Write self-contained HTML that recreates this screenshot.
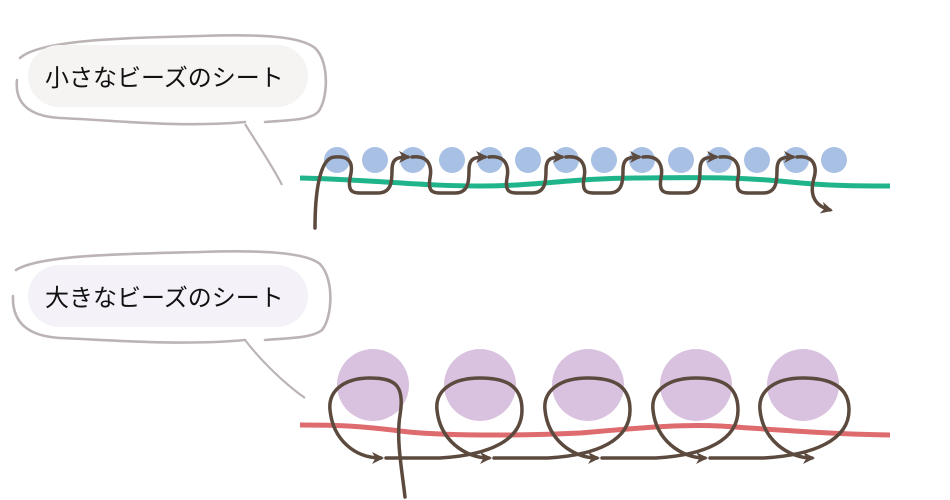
<!DOCTYPE html>
<html><head><meta charset="utf-8"><style>
html,body{margin:0;padding:0;background:#fff;}
svg{display:block;}
</style></head><body>
<svg width="950" height="500" viewBox="0 0 950 500" xmlns="http://www.w3.org/2000/svg">
<defs>
<marker id="ar" markerWidth="12" markerHeight="12" refX="9" refY="6" orient="auto" markerUnits="userSpaceOnUse">
<path d="M0,0 L12,6 L0,12 L3.5,6 Z" fill="#5c4a3e"/>
</marker>
</defs>
<!-- bubble 1 -->
<path d="M20,58 C40,40 120,38 200,36 C260,34 300,36 315,48 C330,62 328,100 318,112 C310,120 290,120 265,122 M245,122 C180,128 110,120 60,118 C25,116 15,100 17,80" fill="none" stroke="#bcb4b4" stroke-width="2.6" stroke-linecap="round"/>
<path d="M245,124 C258,145 272,165 282,185" fill="none" stroke="#bcb4b4" stroke-width="2.2"/>
<rect x="28" y="45" width="280" height="62" rx="31" fill="#f6f4f3"/>
<text x="45" y="86" font-family="Liberation Sans, Noto Sans CJK JP, sans-serif" font-size="24" fill="#111">小さなビーズのシート</text>
<!-- bubble 2 -->
<path d="M16,270 C40,255 120,254 200,252 C260,250 305,252 320,264 C335,280 332,318 322,330 C312,338 290,338 265,340 M245,340 C180,346 110,340 60,338 C25,336 12,320 13,296" fill="none" stroke="#bcb4b4" stroke-width="2.6" stroke-linecap="round"/>
<path d="M245,340 C262,362 285,384 305,398" fill="none" stroke="#bcb4b4" stroke-width="2.2"/>
<rect x="28" y="265" width="280" height="62" rx="31" fill="#f4f1f8"/>
<text x="45" y="306" font-family="Liberation Sans, Noto Sans CJK JP, sans-serif" font-size="24" fill="#111">大きなビーズのシート</text>

<!-- small beads -->
<g fill="#a8c0e4">
<circle cx="337" cy="160" r="13"/><circle cx="375" cy="160" r="13"/><circle cx="413" cy="160" r="13"/><circle cx="452" cy="160" r="13"/><circle cx="490" cy="160" r="13"/><circle cx="528" cy="160" r="13"/><circle cx="566" cy="160" r="13"/><circle cx="604" cy="160" r="13"/><circle cx="642" cy="160" r="13"/><circle cx="681" cy="160" r="13"/><circle cx="719" cy="160" r="13"/><circle cx="757" cy="160" r="13"/><circle cx="796" cy="160" r="13"/><circle cx="834" cy="160" r="13"/>
</g>
<path d="M300,178 C380,180 420,186 480,186 C540,186 570,178 640,178 C720,177 750,178 790,182 C830,186 860,186 890,186" fill="none" stroke="#1fb48a" stroke-width="5"/>
<g fill="none" stroke="#5c4a3e" stroke-width="3.5" stroke-linecap="round">
<path d="M315,228 C315,200 318,157 335,157 C355,155 352,170 350,178 C347,195 355,193 370,193 L378,193 C392,193 392,180 392,170 C392,158 398,157 408,157" marker-end="url(#ar)"/>
<path d="M412,157 C430,155 432,168 430,178 C427,195 435,193 450,193 L455,193 C469,193 469,180 469,170 C469,158 475,157 485,157" marker-end="url(#ar)"/>
<path d="M489,157 C507,155 509,168 507,178 C504,195 512,193 527,193 L532,193 C546,193 546,180 546,170 C546,158 552,157 562,157" marker-end="url(#ar)"/>
<path d="M566,157 C584,155 586,168 584,178 C581,195 589,193 604,193 L609,193 C623,193 623,180 623,170 C623,158 629,157 639,157" marker-end="url(#ar)"/>
<path d="M643,157 C661,155 663,168 661,178 C658,195 666,193 681,193 L686,193 C700,193 700,180 700,170 C700,158 706,157 716,157" marker-end="url(#ar)"/>
<path d="M720,157 C738,155 740,168 738,178 C735,195 743,193 758,193 L763,193 C777,193 777,180 777,170 C777,158 783,157 793,157" marker-end="url(#ar)"/>
<path d="M797,157 C815,155 817,168 814,178 C810,192 812,205 830,210" marker-end="url(#ar)"/>
</g>

<!-- large beads -->
<g fill="#d9c2df">
<circle cx="373" cy="385" r="36"/><circle cx="480" cy="385" r="36"/><circle cx="588" cy="385" r="36"/><circle cx="696" cy="385" r="36"/><circle cx="803" cy="385" r="36"/>
</g>
<path d="M300,425 C340,425 360,426 400,431 C440,436 520,436 580,433 C640,428 680,424 720,426 C780,430 830,434 890,435" fill="none" stroke="#de6b6e" stroke-width="5"/>
<g fill="none" stroke="#5c4a3e" stroke-width="3.5" stroke-linecap="round">
<path d="M405,497 C402,470 396,440 400,415 C405,385 395,378 370,378 C345,378 328,390 330,410 C333,440 355,458 381,458" marker-end="url(#ar)"/>
<path d="M386,458 L440,458 C490,455 522,440 522,410 C522,385 505,378 480,378 C450,378 435,392 437,410 C440,440 465,458 489,458" marker-end="url(#ar)"/>
<path d="M494,458 L548,458 C598,455 630,440 630,410 C630,385 613,378 588,378 C558,378 543,392 545,410 C548,440 573,458 597,458" marker-end="url(#ar)"/>
<path d="M602,458 L656,458 C706,455 738,440 738,410 C738,385 721,378 696,378 C666,378 651,392 653,410 C656,440 681,458 705,458" marker-end="url(#ar)"/>
<path d="M710,458 L764,458 C814,455 849,440 849,410 C849,385 828,378 803,378 C773,378 758,392 760,410 C763,440 788,458 812,458" marker-end="url(#ar)"/>
</g>
</svg>
</body></html>
